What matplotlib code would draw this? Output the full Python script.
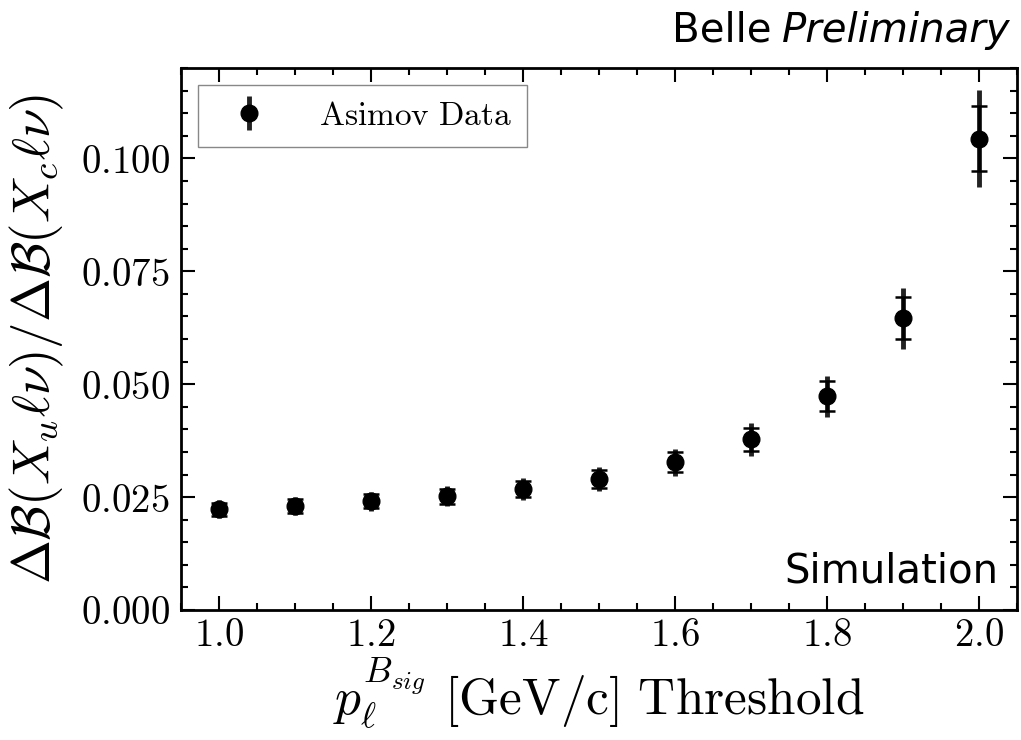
import matplotlib
matplotlib.use("Agg")
import matplotlib.pyplot as plt
from matplotlib.ticker import MultipleLocator, FormatStrFormatter

plt.rcParams['mathtext.fontset'] = 'cm'
plt.rcParams['font.family'] = 'DejaVu Serif'

# threshold values and ratio of uncertainties
thresholds = [1.0, 1.1, 1.2, 1.3, 1.4, 1.5, 1.6, 1.7, 1.8, 1.9, 2.0]
ratio = [0.0223, 0.0230, 0.0241, 0.0252, 0.0268, 0.0290, 0.0327, 0.0378, 0.0473, 0.0646, 0.1044]
err_inner = [0.0015, 0.0015, 0.0016, 0.0017, 0.0018, 0.0020, 0.0022, 0.0026, 0.0033, 0.0046, 0.0072]
err_outer = [0.0020, 0.0020, 0.0021, 0.0022, 0.0024, 0.0027, 0.0030, 0.0036, 0.0045, 0.0067, 0.0107]

fig = plt.figure(figsize=(10.21, 7.40), dpi=100)
ax = fig.add_axes([0.1773, 0.1757, 0.8187, 0.7323])

# total error (no caps) with the markers -> this one goes in the legend
ax.errorbar(thresholds, ratio, yerr=err_outer, fmt='o', color='black', ms=12,
            ecolor='#222222', elinewidth=3.5, capsize=0, zorder=2,
            label=r'$\mathrm{Asimov\ Data}$')
# inner error with caps
ax.errorbar(thresholds, ratio, yerr=err_inner, fmt='none', ecolor='black',
            elinewidth=2, capsize=6, capthick=1.8, zorder=3)

ax.set_xlim(0.95, 2.05)
ax.set_ylim(0.0, 0.12)
ax.xaxis.set_major_locator(MultipleLocator(0.2))
ax.xaxis.set_minor_locator(MultipleLocator(0.05))
ax.yaxis.set_major_locator(MultipleLocator(0.025))
ax.yaxis.set_minor_locator(MultipleLocator(0.005))
ax.xaxis.set_major_formatter(FormatStrFormatter(r'$%.1f$'))
ax.yaxis.set_major_formatter(FormatStrFormatter(r'$%.3f$'))

ax.tick_params(which='both', direction='in', top=True, right=True, labelsize=28, width=1.5)
ax.tick_params(which='major', length=10)
ax.tick_params(which='minor', length=5)
ax.tick_params(axis='x', pad=5)
ax.tick_params(axis='y', pad=8)
for s in ax.spines.values():
    s.set_linewidth(2)

ax.set_xlabel(r'$p_\ell^{B_{sig}}\ \mathrm{[GeV/c]\ Threshold}$', fontsize=37, labelpad=1)
ax.set_ylabel(r'$\Delta\mathcal{B}(X_u\ell\nu)/\Delta\mathcal{B}(X_c\ell\nu)$', fontsize=38)
ax.yaxis.set_label_coords(-0.138, 0.5)

ax.legend(loc='upper left', fontsize=24, fancybox=False, framealpha=1,
          edgecolor='#888888', handlelength=2.2, handletextpad=1.0,
          borderpad=0.45, borderaxespad=0.5, frameon=True)

ax.text(0.978, 0.035, 'Simulation', transform=ax.transAxes, ha='right', va='bottom',
        fontsize=29, family='DejaVu Sans')

# "Belle" upright, "Preliminary" italic
tp = fig.text(0.99, 0.932, 'Preliminary', ha='right', va='bottom', fontsize=29,
              family='DejaVu Sans', style='italic')
fig.canvas.draw()
bb = tp.get_window_extent().transformed(fig.transFigure.inverted())
fig.text(bb.x0 - 0.01, 0.932, 'Belle', ha='right', va='bottom', fontsize=29, family='DejaVu Sans')

fig.savefig('out.png', dpi=100)
